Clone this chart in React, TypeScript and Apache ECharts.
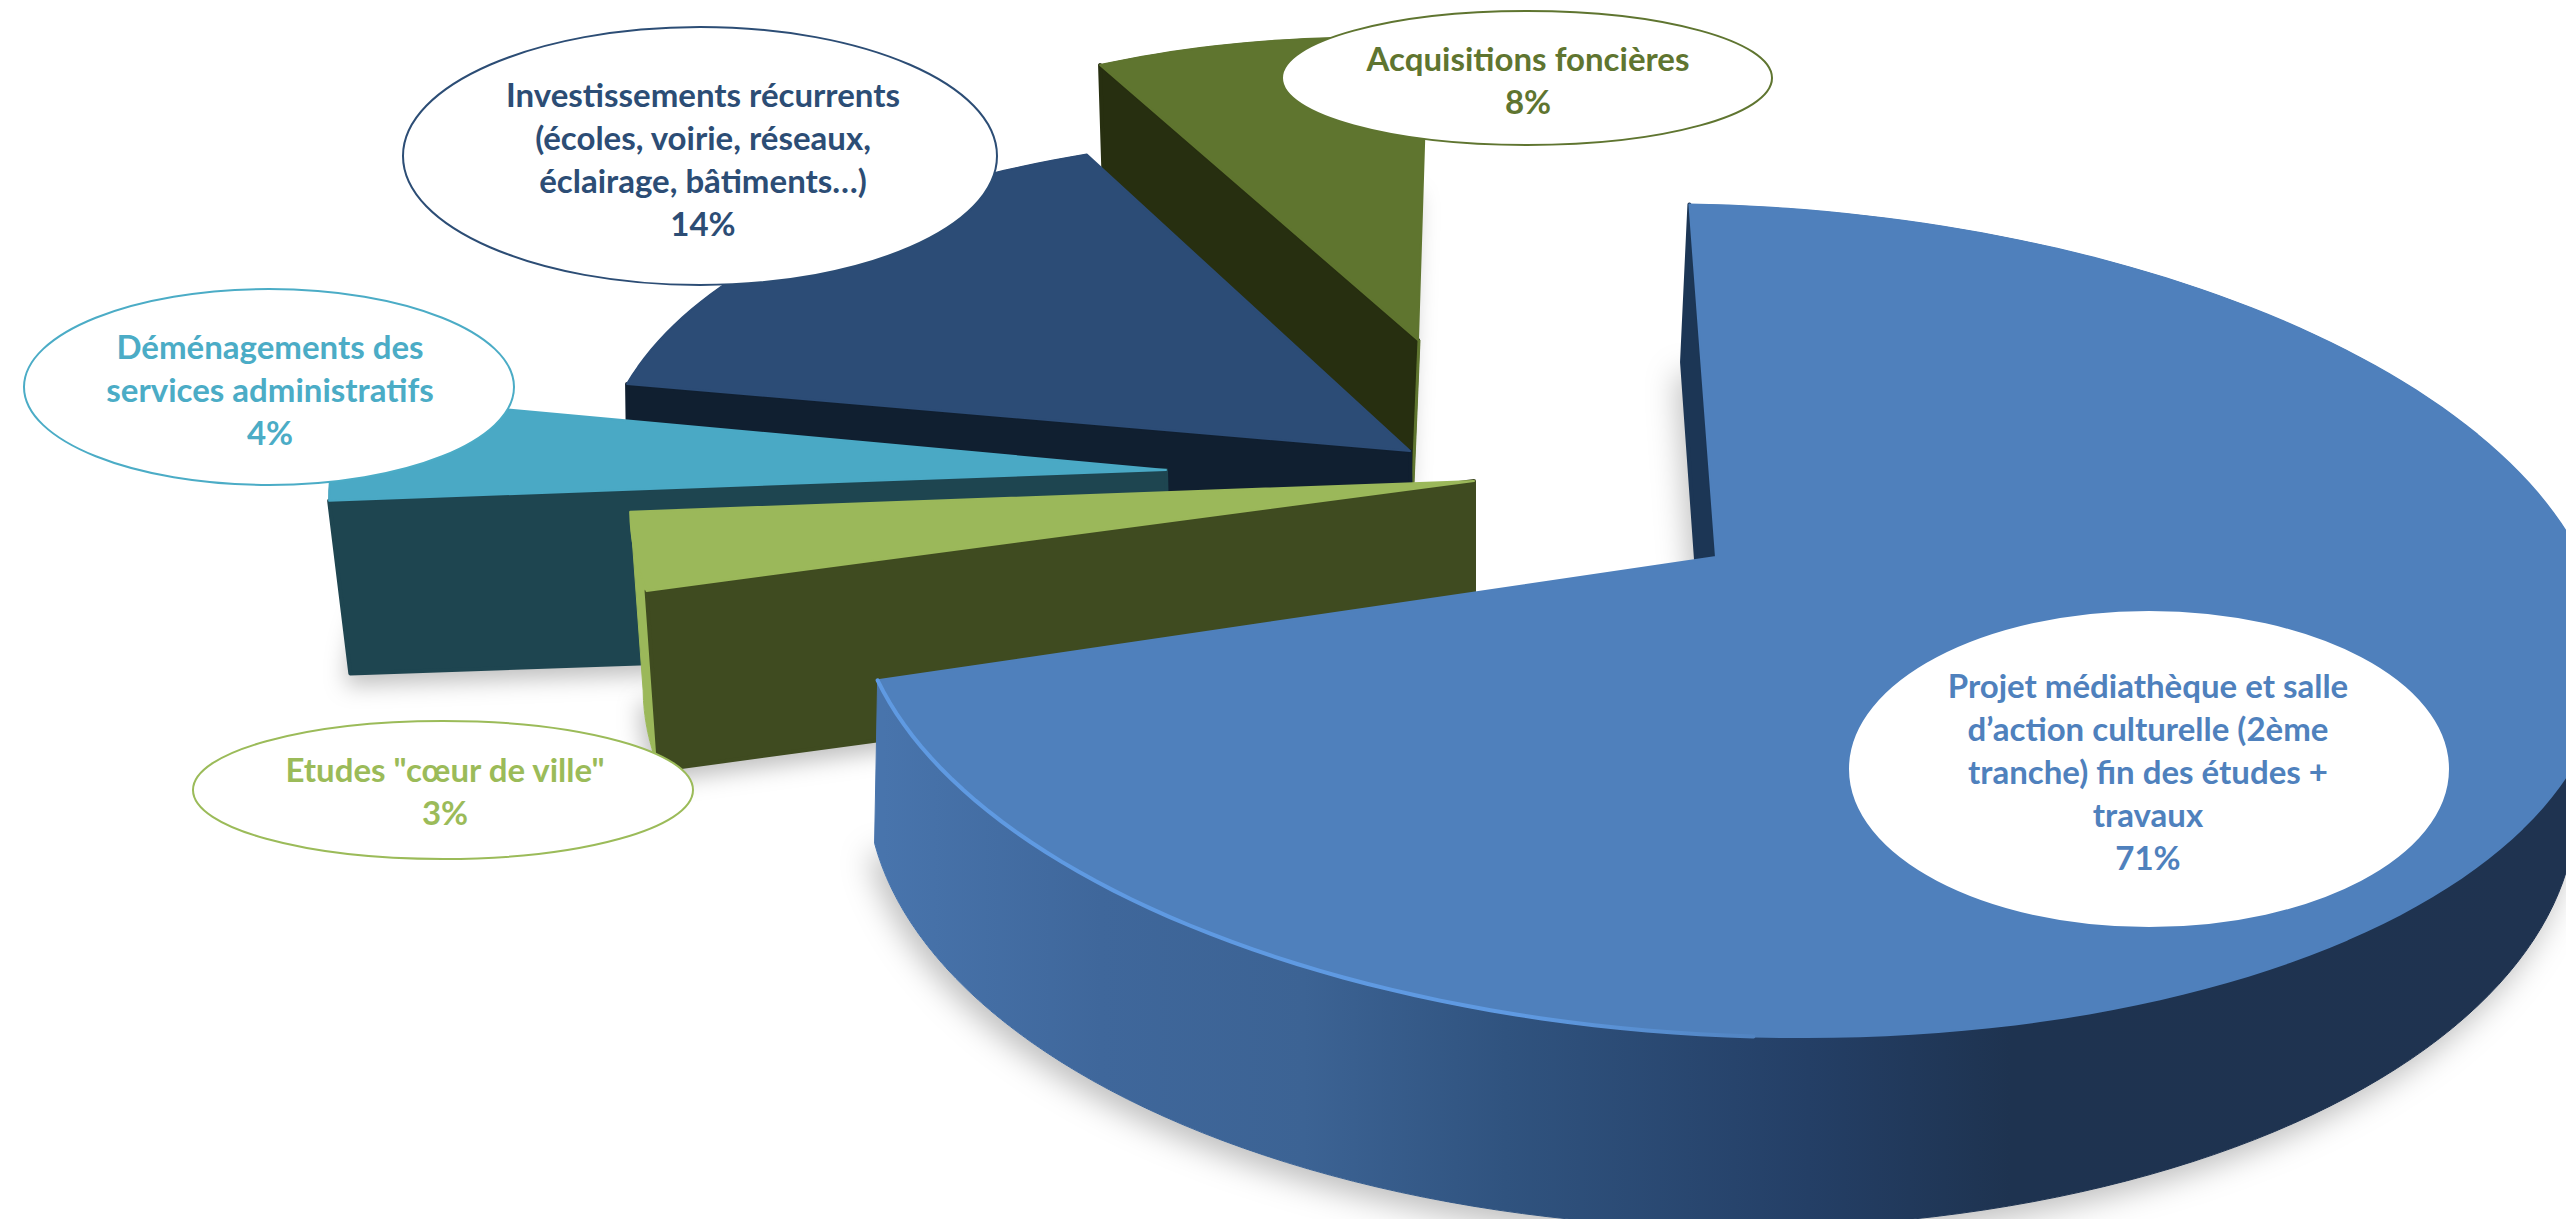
import React, { useEffect, useRef } from "react";
import * as echarts from "echarts";

const WIDTH = 2566;
const HEIGHT = 1219;

// Data, clockwise from the back of the pie
const CATEGORIES = [
  "Projet médiathèque et salle\nd’action culturelle (2ème\ntranche) fin des études +\ntravaux",
  'Etudes "cœur de ville"',
  "Déménagements des\nservices administratifs",
  "Investissements récurrents\n(écoles, voirie, réseaux,\néclairage, bâtiments…)",
  "Acquisitions foncières",
];
const VALUES = [71, 3, 4, 14, 8];

// Projection of the pie's circle
const START_ANGLE = -2.1;
const R = 875;
const K = 415;
const TILT = 35;
const P = [-0.016, -0.152];

// Styles
const TOP_COLORS = ["#4f80bc", "#9bb85a", "#4aa9c5", "#2c4c76", "#5f752f"];
const WALL_COLORS = ["#1c3655", "#3f4b20", "#1e4550", "#101f30", "#272f10"];
const RIM_COLORS = [null, "#9bb85a", "#1e4550", "#101f30", "#272f10"];
const TEXT_COLORS = ["#4f81bd", "#9bbb59", "#4bacc6", "#2c4d75", "#5f7530"];

// Per-slice placement of the exploded sectors
const SLICES = [
  { ax: 1716, ay: 557, sx: 1, sy: 1, ns: 0, ne: -5.2, bx: 1708, by: 729, bsx: 0.977, bsy: 1.043, bsk: -0.0303, bns: 0, bne: 0 },
  { ax: 1474, ay: 481, sx: 0.98, sy: 1, ns: -3.4, ne: -3.4, bx: 1474, by: 660, bsx: 0.965, bsy: 1, bsk: 0, bns: -3.4, bne: -3.4 },
  { ax: 1166, ay: 470, sx: 0.972, sy: 1, ns: -3.4, ne: -2.6, bx: 1170, by: 645, bsx: 0.952, bsy: 0.93, bsk: 0, bns: -3.4, bne: -2.6 },
  { ax: 1410, ay: 451, sx: 0.94, sy: 0.9, ns: -2.6, ne: 3.8, bx: 1412, by: 596, bsx: 0.94, bsy: 0.9, bsk: 0, bns: -2.6, bne: 3.8 },
  { ax: 1418, ay: 340, sx: 0.817, sy: 0.857, ns: 0, ne: 2.9, bx: 1412, by: 484, bsx: 0.79, bsy: 0.857, bsk: 0, bns: 0, bne: 2.9 },
];

// Label ovals
const LABELS = [
  { cx: 2149, cy: 769, rx: 299, ry: 157, stroke: false, tx: 2148, ty: 771 },
  { cx: 443, cy: 790, rx: 250, ry: 69, stroke: true, tx: 445, ty: 790 },
  { cx: 269, cy: 387, rx: 245, ry: 98, stroke: true, tx: 270, ty: 389 },
  { cx: 700, cy: 156, rx: 297, ry: 129, stroke: true, tx: 703, ty: 158 },
  { cx: 1527, cy: 78, rx: 245, ry: 67, stroke: true, tx: 1528, ty: 79 },
];

const FONT = 'bold 33px Lato, "Noto Sans", sans-serif';
const LINE_HEIGHT = 43;

function boost(w: number[]) {
  const p2 = P[0] * P[0] + P[1] * P[1];
  const g = 1 / Math.sqrt(1 - p2);
  const pw = P[0] * w[0] + P[1] * w[1];
  const c = (g / (1 + g)) * pw;
  const d = 1 + pw;
  return [(P[0] + w[0] / g + c * P[0]) / d, (P[1] + w[1] / g + c * P[1]) / d];
}

function rel(deg: number) {
  const t = (deg * Math.PI) / 180;
  const b = boost([Math.sin(t), -Math.cos(t)]);
  const du = b[0] - P[0];
  const dv = b[1] - P[1];
  return [R * du, TILT * du + K * dv];
}

function sample(a0: number, a1: number) {
  const n = Math.max(2, Math.ceil(Math.abs(a1 - a0) / 1.5));
  const out: number[][] = [];
  for (let i = 0; i <= n; i++) out.push(rel(a0 + ((a1 - a0) * i) / n));
  return out;
}

const TOTAL = VALUES.reduce((s, v) => s + v, 0);

function renderSlice(params: any, api: any) {
  const i = params.dataIndex;
  const value = api.value(0);
  const before = VALUES.slice(0, i).reduce((s, v) => s + v, 0);
  const a0 = START_ANGLE + (before / TOTAL) * 360;
  const a1 = a0 + (value / TOTAL) * 360;
  const L = SLICES[i];
  const order = (VALUES.length - i) * 10 + 10;

  const apex = [L.ax, L.ay];
  const baseApex = [L.bx, L.by];
  const topRim = sample(a0 + L.ns, a1 + L.ne).map((d) => [L.ax + L.sx * d[0], L.ay + L.sy * d[1]]);
  const baseRim = sample(a0 + L.bns, a1 + L.bne).map((d) => [
    L.bx + L.bsx * d[0],
    L.by + L.bsy * d[1] + L.bsk * d[0],
  ]);

  const rimFill =
    i === 0
      ? new echarts.graphic.LinearGradient(
          883,
          0,
          2566,
          0,
          [
            { offset: 0, color: "#4874ac" },
            { offset: 0.13, color: "#3f679b" },
            { offset: 0.25, color: "#3c6394" },
            { offset: 0.37, color: "#30537f" },
            { offset: 0.55, color: "#243f66" },
            { offset: 0.67, color: "#1e3350" },
            { offset: 1, color: "#1f3350" },
          ],
          true
        )
      : RIM_COLORS[i];

  const children: any[] = [
    {
      type: "polygon",
      z2: i === 0 ? 5 : 1,
      shape: { points: [baseApex, ...baseRim] },
      style: {
        fill: "#ffffff",
        shadowBlur: i === 0 ? 30 : 22,
        shadowColor: "rgba(0,0,0,0.25)",
        shadowOffsetX: i === 0 ? -6 : -4,
        shadowOffsetY: 12,
      },
    },
    {
      type: "polygon",
      z2: order,
      shape: { points: [...topRim, ...baseRim.slice().reverse()] },
      style: { fill: rimFill, stroke: rimFill, lineWidth: 1, lineJoin: "round" },
    },
    {
      type: "polygon",
      z2: order + 1,
      shape: { points: [apex, topRim[0], baseRim[0], baseApex] },
      style: { fill: WALL_COLORS[i], stroke: WALL_COLORS[i], lineWidth: 4, lineJoin: "round" },
    },
    {
      type: "polygon",
      z2: order + 2,
      shape: { points: [apex, ...topRim] },
      style: { fill: TOP_COLORS[i], stroke: TOP_COLORS[i], lineWidth: 2, lineJoin: "round" },
    },
  ];

  if (i === 0) {
    const front = topRim.filter((_, k) => k > topRim.length * 0.71);
    children.push({
      type: "polyline",
      z2: order + 3,
      shape: { points: front },
      style: {
        fill: "none",
        lineWidth: 4,
        lineCap: "round",
        stroke: new echarts.graphic.LinearGradient(
          873,
          0,
          1800,
          0,
          [
            { offset: 0, color: "#5f9ae2" },
            { offset: 0.7, color: "#5f9ae2" },
            { offset: 1, color: "#4f80bc" },
          ],
          true
        ),
      },
    });
  }
  if (i === VALUES.length - 1) {
    children.push({
      type: "line",
      z2: order + 3,
      shape: { x1: apex[0] + 1, y1: apex[1], x2: baseApex[0] + 1, y2: baseApex[1] },
      style: { stroke: TOP_COLORS[i], lineWidth: 3 },
    });
  }

  const lab = LABELS[i];
  children.push({
    type: "ellipse",
    z2: 200,
    shape: { cx: lab.cx, cy: lab.cy, rx: lab.rx, ry: lab.ry },
    style: { fill: "#ffffff", stroke: lab.stroke ? TEXT_COLORS[i] : "#ffffff", lineWidth: 2 },
  });
  children.push({
    type: "text",
    z2: 201,
    x: lab.tx,
    y: lab.ty,
    style: {
      text: `${CATEGORIES[i]}\n${value}%`,
      fill: TEXT_COLORS[i],
      font: FONT,
      lineHeight: LINE_HEIGHT,
      align: "center",
      verticalAlign: "middle",
    },
  });

  return { type: "group", children };
}

export default function App() {
  const ref = useRef<HTMLDivElement>(null);
  useEffect(() => {
    const chart = echarts.init(ref.current!, null, { renderer: "svg" });
    chart.setOption({
      animation: false,
      backgroundColor: "#ffffff",
      series: [
        {
          type: "custom",
          coordinateSystem: "none",
          silent: true,
          animation: false,
          clip: false,
          data: VALUES.map((v) => [v]),
          renderItem: renderSlice,
        },
      ],
    });
    return () => chart.dispose();
  }, []);
  return (
    <div
      ref={ref}
      style={{ position: "absolute", left: 0, top: 0, width: WIDTH, height: HEIGHT, overflow: "hidden" }}
    />
  );
}
